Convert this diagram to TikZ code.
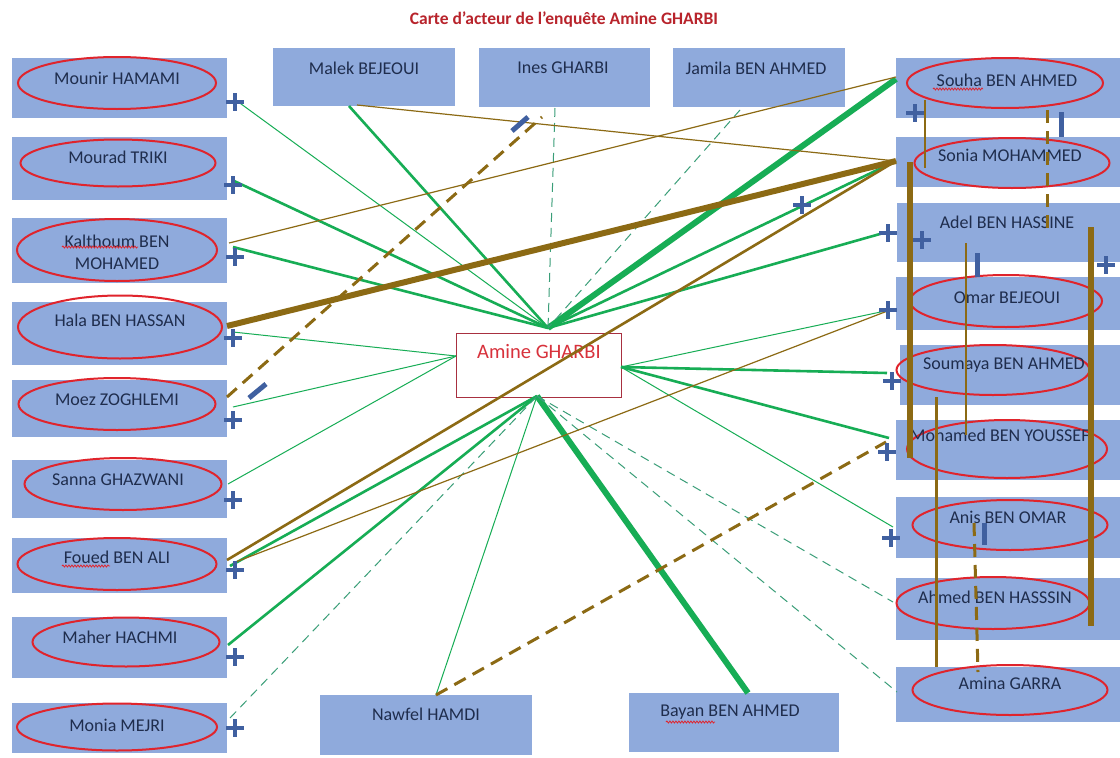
\documentclass[tikz,border=0pt]{standalone}
\usepackage{fontspec}
\setmainfont{Carlito}
\usetikzlibrary{shapes.geometric,decorations.pathmorphing}
\definecolor{boxblue}{HTML}{8FAADC}
\definecolor{ellred}{HTML}{E0242C}
\definecolor{navy}{HTML}{1F2D4D}
\definecolor{titlered}{HTML}{B8232B}
\definecolor{amred}{HTML}{D8323C}
\definecolor{amborder}{HTML}{A83040}
\definecolor{gA}{HTML}{17AD55}
\definecolor{gT}{HTML}{3A9E78}
\definecolor{brn}{HTML}{8C6A14}
\definecolor{plusblue}{HTML}{4060A0}
\tikzset{
  bluebox/.style={fill=boxblue, draw=none, inner sep=0pt, anchor=north west},
  ell/.style={ellipse, draw=ellred, line width=2pt, inner sep=0pt},
  lbl/.style={font=\fontsize{18}{22}\selectfont, text=navy, inner sep=0pt, align=center},
  gthin/.style={draw=gA, line width=1pt},
  gmed/.style={draw=gA, line width=2.6pt},
  gthick/.style={draw=gA, line width=6pt},
  gdash/.style={draw=gT, line width=1pt, dash pattern=on 9pt off 6pt},
  bthin/.style={draw=brn, line width=1.2pt},
  bmed/.style={draw=brn, line width=2.6pt},
  bthick/.style={draw=brn, line width=6pt},
  bdash/.style={draw=brn, line width=3pt, dash pattern=on 13pt off 8pt},
  minusbar/.style={draw=plusblue, line width=5pt},
  squig/.style={draw=ellred, line width=0.8pt, decorate, decoration={snake, amplitude=1pt, segment length=3pt}},
  plussign/.pic={\draw[plusblue, line width=3.6pt] (-9,0) -- (9,0) (0,-9) -- (0,9);}
}
\begin{document}
\begin{tikzpicture}[x=1pt,y=-1pt]
\useasboundingbox (0,0) rectangle (1120,758);
\fill[white] (0,0) rectangle (1120,758);

% title
\node[font=\fontsize{17.5}{21}\selectfont\bfseries, text=titlered, inner sep=0pt] (title) at (564,20) {Carte d’acteur de l’enquête Amine GHARBI};

% left column boxes
\node[bluebox, minimum width=215pt, minimum height=60pt] (mounir) at (12,58) {};
\node[bluebox, minimum width=215pt, minimum height=63pt] (mourad) at (12,137) {};
\node[bluebox, minimum width=215pt, minimum height=65pt] (kalthoum) at (12,218) {};
\node[bluebox, minimum width=215pt, minimum height=63pt] (hala) at (12,302) {};
\node[bluebox, minimum width=215pt, minimum height=57pt] (moez) at (12,380) {};
\node[bluebox, minimum width=215pt, minimum height=58pt] (sanna) at (12,460) {};
\node[bluebox, minimum width=215pt, minimum height=55pt] (foued) at (12,538) {};
\node[bluebox, minimum width=215pt, minimum height=61pt] (maher) at (12,617) {};
\node[bluebox, minimum width=215pt, minimum height=50pt] (monia) at (12,703) {};

% top boxes
\node[bluebox, minimum width=182pt, minimum height=58pt] (malek) at (273,48) {};
\node[bluebox, minimum width=171pt, minimum height=59pt] (ines) at (479,48) {};
\node[bluebox, minimum width=172pt, minimum height=59pt] (jamila) at (673,48) {};

% right column boxes
\node[bluebox, minimum width=224pt, minimum height=60pt] (souha) at (896,58) {};
\node[bluebox, minimum width=224pt, minimum height=50pt] (sonia) at (896,137) {};
\node[bluebox, minimum width=223pt, minimum height=59pt] (adel) at (897,203) {};
\node[bluebox, minimum width=224pt, minimum height=53pt] (omar) at (896,277) {};
\node[bluebox, minimum width=220pt, minimum height=60pt] (soumaya) at (900,345) {};
\node[bluebox, minimum width=224pt, minimum height=60pt] (mohamed) at (896,420) {};
\node[bluebox, minimum width=224pt, minimum height=61pt] (anis) at (896,497) {};
\node[bluebox, minimum width=224pt, minimum height=62pt] (ahmed) at (896,578) {};
\node[bluebox, minimum width=224pt, minimum height=55pt] (amina) at (896,667) {};

% bottom boxes
\node[bluebox, minimum width=212pt, minimum height=60pt] (nawfel) at (320,695) {};
\node[bluebox, minimum width=210pt, minimum height=59pt] (bayan) at (629,693) {};

% centre box
\node[draw=amborder, line width=1pt, fill=white, minimum width=165pt, minimum height=64pt, inner sep=0pt, anchor=north west] (amine) at (456,333) {};
\node[font=\fontsize{20.5}{24}\selectfont, text=amred, inner sep=0pt] (amineT) at (539,352) {Amine GHARBI};

% ellipses
\node[ell, minimum width=198pt, minimum height=52pt] (mounirE) at (117,83) {};
\node[ell, minimum width=195pt, minimum height=47pt] (mouradE) at (118,163) {};
\node[ell, minimum width=200pt, minimum height=62pt] (kalthoumE) at (117,250) {};
\node[ell, minimum width=204pt, minimum height=63pt] (halaE) at (120,327) {};
\node[ell, minimum width=197pt, minimum height=52pt] (moezE) at (117,404) {};
\node[ell, minimum width=197pt, minimum height=52pt] (sannaE) at (123,484) {};
\node[ell, minimum width=199pt, minimum height=52pt] (fouedE) at (117,564) {};
\node[ell, minimum width=187pt, minimum height=49pt] (maherE) at (126,642) {};
\node[ell, minimum width=200pt, minimum height=47pt] (moniaE) at (117,727) {};
\node[ell, minimum width=196pt, minimum height=50pt] (souhaE) at (1005,83) {};
\node[ell, minimum width=195pt, minimum height=50pt] (soniaE) at (1012,163) {};
\node[ell, minimum width=192pt, minimum height=52pt] (omarE) at (1006,301) {};
\node[ell, minimum width=193pt, minimum height=50pt] (soumayaE) at (993,370) {};
\node[ell, minimum width=200pt, minimum height=58pt] (mohamedE) at (1007,449) {};
\node[ell, minimum width=195pt, minimum height=50pt] (anisE) at (1010,525) {};
\node[ell, minimum width=193pt, minimum height=52pt] (ahmedE) at (993,603) {};
\node[ell, minimum width=195pt, minimum height=50pt] (aminaE) at (1010,690) {};

% labels
\node[lbl] (mounirT) at (117,78) {Mounir HAMAMI};
\node[lbl] (mouradT) at (118,157) {Mourad TRIKI};
\node[lbl, font=\fontsize{18}{22}\selectfont] (kalthoumT) at (117,252) {Kalthoum BEN\\MOHAMED};
\node[lbl] (halaT) at (120,320) {Hala BEN HASSAN};
\node[lbl] (moezT) at (117,400) {Moez ZOGHLEMI};
\node[lbl] (sannaT) at (118,480) {Sanna GHAZWANI};
\node[lbl] (fouedT) at (117,557) {Foued BEN ALI};
\node[lbl] (maherT) at (120,637) {Maher HACHMI};
\node[lbl] (moniaT) at (117,725) {Monia MEJRI};
\node[lbl] (malekT) at (364,68) {Malek BEJEOUI};
\node[lbl] (inesT) at (563,68) {Ines GHARBI};
\node[lbl] (jamilaT) at (756,68) {Jamila BEN AHMED};
\node[lbl] (souhaT) at (1007,80) {Souha BEN AHMED};
\node[lbl] (soniaT) at (1010,155) {Sonia MOHAMMED};
\node[lbl] (adelT) at (1007,222) {Adel BEN HASSINE};
\node[lbl] (omarT) at (1007,298) {Omar BEJEOUI};
\begin{scope}
\clip (900,345) rectangle (1084,405);
\node[lbl, anchor=west] (soumayaT) at (923,365) {Soumaya BEN AHMED};
\end{scope}
\node[lbl, anchor=west] (mohamedT) at (910,435) {Mohamed BEN YOUSSEF};
\node[lbl] (anisT) at (1008,517) {Anis BEN OMAR};
\node[lbl] (ahmedT) at (995,597) {Ahmed BEN HASSSIN};
\node[lbl] (aminaT) at (1010,683) {Amina GARRA};
\node[lbl] (nawfelT) at (426,714) {Nawfel HAMDI};
\node[lbl] (bayanT) at (730,712) {Bayan BEN AHMED};

% spell-check squiggles
\draw[squig] (62,247) -- (138,247);
\draw[squig] (62,566) -- (110,566);
\draw[squig] (933,89) -- (983,89);
\draw[squig] (666,722) -- (715,722);

% hubs and end points
\coordinate (hubT) at (548,328);
\coordinate (hubB) at (537,396);
\coordinate (hubL) at (456,356);
\coordinate (hubR) at (621,367);
\coordinate (mounirP) at (237,101);
\coordinate (mouradP) at (232,180);
\coordinate (kalthoumG) at (233,247);
\coordinate (kalthoumB) at (229,243);
\coordinate (halaG) at (233,332);
\coordinate (halaB) at (227,326);
\coordinate (moezG) at (233,407);
\coordinate (moezB) at (227,397);
\coordinate (sannaG) at (228,484);
\coordinate (fouedG) at (230,566);
\coordinate (fouedB) at (227,560);
\coordinate (fouedC) at (233,563);
\coordinate (maherG) at (228,645);
\coordinate (moniaG) at (230,718);
\coordinate (malekG) at (349,106);
\coordinate (malekB) at (357,105);
\coordinate (inesG) at (555,108);
\coordinate (inesB) at (542,117);
\coordinate (jamilaG) at (740,110);
\coordinate (souhaG) at (896,79);
\coordinate (souhaB) at (896,77);
\coordinate (soniaP) at (896,161);
\coordinate (adelG) at (887,232);
\coordinate (omarG) at (890,310);
\coordinate (soumayaG) at (887,373);
\coordinate (mohamedG) at (889,438);
\coordinate (mohamedB) at (886,442);
\coordinate (anisG) at (893,527);
\coordinate (ahmedG) at (893,602);
\coordinate (aminaG) at (897,692);
\coordinate (nawfelP) at (436,695);
\coordinate (bayanP) at (748,693);
% vertical links on the right
\coordinate (v1a) at (925,100);  \coordinate (v1b) at (925,168);
\coordinate (v2a) at (910,162);  \coordinate (v2b) at (910,458);
\coordinate (v3a) at (1047,110); \coordinate (v3b) at (1047,233);
\coordinate (v4a) at (1091,227); \coordinate (v4b) at (1091,626);
\coordinate (v5a) at (966,243);  \coordinate (v5b) at (966,435);
\coordinate (v6a) at (936,397);  \coordinate (v6b) at (936,667);
\coordinate (v7a) at (974,523);  \coordinate (v7b) at (978,672);

% green links
\draw[gthin] (mounirP) -- (hubT);
\draw[gthin] (halaG) -- (hubL);
\draw[gthin] (moezG) -- (hubL);
\draw[gthin] (sannaG) -- (hubL);
\draw[gthin] (hubR) -- (omarG);
\draw[gthin] (hubR) -- (anisG);
\draw[gthin] (hubB) -- (nawfelP);
\draw[gmed] (mouradP) -- (hubT);
\draw[gmed] (kalthoumG) -- (hubT);
\draw[gmed] (malekG) -- (hubT);
\draw[gmed] (hubT) -- (soniaP);
\draw[gmed] (hubT) -- (adelG);
\draw[gmed] (hubR) -- (soumayaG);
\draw[gmed] (hubR) -- (mohamedG);
\draw[gmed] (fouedG) -- (hubB);
\draw[gmed] (maherG) -- (hubB);
\draw[gthick] (hubT) -- (souhaG);
\draw[gthick] (hubB) -- (bayanP);
\draw[gdash] (inesG) -- (hubT);
\draw[gdash] (jamilaG) -- (hubT);
\draw[gdash] (moniaG) -- (hubB);
\draw[gdash] (hubB) -- (ahmedG);
\draw[gdash] (hubB) -- (aminaG);

% brown links
\draw[bthin] (kalthoumB) -- (souhaB);
\draw[bthin] (malekB) -- (soniaP);
\draw[bthin] (fouedC) -- (omarG);
\draw[bthin] (v1a) -- (v1b);
\draw[bmed] (fouedB) -- (soniaP);
\draw[bmed, line width=2.2pt] (v5a) -- (v5b);
\draw[bmed, line width=3pt] (v6a) -- (v6b);
\draw[bthick] (halaB) -- (soniaP);
\draw[bthick] (v2a) -- (v2b);
\draw[bthick] (v4a) -- (v4b);
\draw[bdash] (moezB) -- (inesB);
\draw[bdash] (nawfelP) -- (mohamedB);
\draw[bdash] (v3a) -- (v3b);
\draw[bdash] (v7a) -- (v7b);

% minus signs
\draw[minusbar] (249,398) -- (266,384);
\draw[minusbar] (512,131) -- (528,117);
\draw[minusbar] (1061,112) -- (1061,137);
\draw[minusbar] (977,253) -- (977,277);
\draw[minusbar] (984,523) -- (984,545);

% plus signs
\foreach \p in {(235,102),(233,185),(235,257),(233,338),(233,420),(233,500),(235,570),(235,657),(235,728),(802,205),(915,113),(888,233),(922,240),(1106,265),(888,310),(892,381),(887,452),(891,538)}
  \pic at \p {plussign};
\end{tikzpicture}
\end{document}
